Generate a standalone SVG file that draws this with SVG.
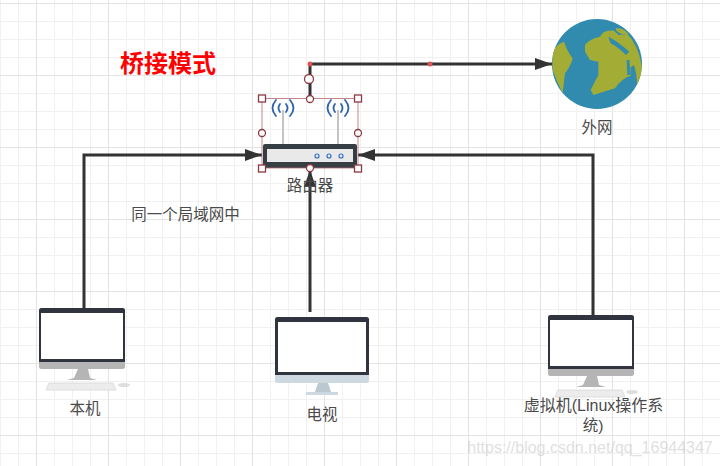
<svg xmlns="http://www.w3.org/2000/svg" width="720" height="466" viewBox="0 0 720 466">
<style>
text{font-family:"Liberation Sans","Noto Sans CJK SC",sans-serif;font-size:15.500px;fill:#4a4a4a;text-anchor:middle}
.conn{fill:none;stroke:#333;stroke-width:3}
.sel{fill:#fff;stroke:#8a3a42;stroke-width:1.3}
.dark{fill:#30343f}
.scr{fill:#fff}
.gray{fill:#b5b5b5}
.kb{fill:#ececec;stroke:#d8d8d8;stroke-width:.8}
.blue{fill:none;stroke:#2f62ad;stroke-width:1.8;stroke-linecap:round}
.land{fill:#a3ad36}
.sea{fill:#308bae}
</style>
<defs>
<pattern id="minor" width="18" height="18" patternUnits="userSpaceOnUse" x="0" y="3"><path d="M0 .5H18M.5 0V18" fill="none" stroke="#f1f1f1"/></pattern>
<pattern id="major" width="72" height="72" patternUnits="userSpaceOnUse" x="36" y="3"><path d="M0 .5H72M.5 0V72" fill="none" stroke="#e3e3e3"/></pattern>
<marker id="arr" markerUnits="userSpaceOnUse" markerWidth="18" markerHeight="14" refX="17" refY="6" orient="auto"><path d="M0 0L17 6L0 12Z" fill="#333"/></marker>
<clipPath id="gc"><circle cx="597" cy="64" r="45"/></clipPath>
</defs>
<rect width="720" height="466" fill="#fff"/>
<rect width="720" height="466" fill="url(#minor)"/>
<rect width="720" height="466" fill="url(#major)"/>
<g id="connectors">
<path class="conn" d="M310 98V64H552" marker-end="url(#arr)"/>
<path class="conn" d="M84 308V155H262" marker-end="url(#arr)"/>
<path class="conn" d="M310 312V170" marker-end="url(#arr)"/>
<path class="conn" d="M593 316V155H358" marker-end="url(#arr)"/>
<circle cx="310" cy="64" r="2.500" fill="#d9545c"/>
<circle cx="430" cy="64" r="2.500" fill="#d9545c"/>
</g>
<g id="title"><text x="168" y="72" style="font-size:24px;font-weight:bold;fill:#f00">桥接模式</text></g>
<g id="lan-label"><text x="185.500" y="220">同一个局域网中</text></g>
<g id="router">
<rect x="282" y="110" width="2" height="35" fill="#c4c4c4"/>
<rect x="337" y="110" width="2" height="35" fill="#c4c4c4"/>
<g class="blue">
<path d="M276 100Q269 108 276 116M280 104Q277 108 280 112M290 100Q297 108 290 116M286 104Q289 108 286 112"/>
<path d="M331 100Q324 108 331 116M335 104Q332 108 335 112M345 100Q352 108 345 116M341 104Q344 108 341 112"/>
</g>
<rect x="263" y="144" width="94" height="24" rx="2" fill="#363e43"/>
<rect x="267" y="149" width="86" height="13" fill="#e9e9e9"/>
<g fill="none" stroke="#2f72c4" stroke-width="1.2"><circle cx="317" cy="156" r="2"/><circle cx="329" cy="156" r="2"/><circle cx="341" cy="156" r="2"/></g>
<rect x="262" y="98.500" width="96" height="69.500" fill="none" stroke="#b56a70" stroke-width=".8"/>
<g class="sel">
<rect x="258.500" y="95" width="7" height="7"/><rect x="354.500" y="95" width="7" height="7"/>
<rect x="258.500" y="165" width="7" height="7"/><rect x="354.500" y="165" width="7" height="7"/>
<circle cx="310" cy="99" r="3.500"/><circle cx="262" cy="133" r="3.500"/><circle cx="358" cy="133" r="3.500"/><circle cx="310" cy="168" r="3.500"/>
<circle cx="309" cy="79" r="4.500"/>
</g>
<text x="310" y="191">路由器</text>
</g>
<g id="globe">
<circle cx="597" cy="64" r="45" class="sea"/>
<g clip-path="url(#gc)"><g transform="translate(540 10) scale(.3333)">
<path class="land" d="M37 135Q42 105 72 95Q82 125 98 145Q92 170 75 190L68 250Q50 215 38 180Z"/>
<path class="land" d="M135 105Q150 85 180 80Q190 58 222 62L236 75L262 72Q295 105 306 170Q304 205 292 228Q290 190 282 165L272 172V197Q245 205 225 235L160 255L152 240L175 195V155L150 150L135 125Z"/>
<path class="land" d="M228 55Q250 52 265 72L245 72Q232 68 228 60Z"/>
<path class="sea" d="M205 80Q235 95 268 125L258 135Q232 110 212 100Z"/>
<path class="sea" d="M260 150H268L272 195L262 195Z"/>
</g></g>
<text x="597" y="133">外网</text>
</g>
<g id="host">
<rect x="39" y="308" width="86" height="61" rx="2.500" class="gray"/>
<path class="dark" d="M39 362V310.500Q39 308 41.500 308H122.500Q125 308 125 310.500V362Z"/>
<rect x="41" y="313" width="82" height="46" class="scr"/>
<path class="gray" d="M78 369H88L90 378L97 380H67L74 378Z"/>
<path class="kb" d="M49 383H113L116 390H46Z"/>
<ellipse cx="124" cy="385" rx="6" ry="2" fill="#ddd"/>
<text x="85" y="414">本机</text>
</g>
<g id="tv">
<rect x="275" y="317" width="94" height="66" rx="2.500" fill="#ced8e0"/>
<path class="dark" d="M275 375V319.500Q275 317 277.500 317H366.500Q369 317 369 319.500V375Z"/>
<rect x="278" y="322" width="88" height="50" class="scr"/>
<path d="M318 383H328L331 392H315Z" fill="#bcc8d0"/>
<rect x="306" y="392" width="32" height="3" fill="#ced8e0"/>
<text x="322" y="420">电视</text>
</g>
<g id="vm">
<rect x="548" y="315" width="86" height="61" rx="2.500" class="gray"/>
<path class="dark" d="M548 369V317.500Q548 315 550.500 315H631.500Q634 315 634 317.500V369Z"/>
<rect x="550" y="320" width="82" height="46" class="scr"/>
<path class="gray" d="M587 376H597L599 385L606 387H576L583 385Z"/>
<path class="kb" d="M558 390H622L625 397H555Z"/>
<ellipse cx="632" cy="392" rx="6" ry="2" fill="#ddd"/>
<text x="593.500" y="411" style="font-size:16px">虚拟机(Linux操作系</text>
<text x="593" y="431">统)</text>
</g>
<g id="watermark" style="opacity:.45">
<text x="590" y="453" style="fill:#bbb;font-size:16px">https://blog.csdn.net/qq_16944347</text>
</g>
</svg>
